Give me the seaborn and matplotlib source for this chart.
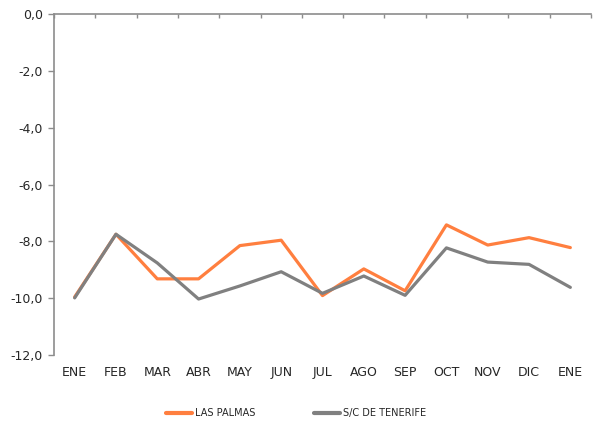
import numpy as np
import pandas as pd
import seaborn as sns
import matplotlib.pyplot as plt
from matplotlib.ticker import FuncFormatter, FixedLocator

# datos
meses = ['ENE', 'FEB', 'MAR', 'ABR', 'MAY', 'JUN', 'JUL',
         'AGO', 'SEP', 'OCT', 'NOV', 'DIC', 'ENE']
las_palmas = [-9.96, -7.75, -9.32, -9.32, -8.15, -7.96, -9.91,
              -8.97, -9.74, -7.42, -8.13, -7.87, -8.22]
tenerife = [-9.99, -7.75, -8.76, -10.03, -9.57, -9.07, -9.83,
            -9.22, -9.90, -8.23, -8.73, -8.81, -9.62]
series = ['LAS PALMAS', 'S/C DE TENERIFE']
colores = ['#FF7F3F', '#808080']

df = pd.DataFrame({
    'idx': list(range(len(meses))) * 2,
    'valor': las_palmas + tenerife,
    'serie': [series[0]] * len(meses) + [series[1]] * len(meses),
})

sns.set_style('white')
plt.rcParams['font.family'] = ['DejaVu Sans']

fig = plt.figure(figsize=(5.96, 4.25), dpi=100)
ax = fig.add_axes([0.0906, 0.1647, 0.901, 0.8023])

sns.lineplot(data=df, x='idx', y='valor', hue='serie', palette=colores,
             linewidth=2.3, ax=ax, legend=False, sort=False)

ax.set_xlim(-0.5, len(meses) - 0.5)
ax.set_ylim(-12, 0)
ax.set_yticks(np.arange(-12, 0.1, 2))
ax.yaxis.set_major_formatter(FuncFormatter(lambda v, p: f'{v:.1f}'.replace('.', ',')))
ax.set_xticks(range(len(meses)))
ax.set_xticklabels(meses)
ax.xaxis.set_minor_locator(FixedLocator(np.arange(-0.5, len(meses), 1)))
ax.set_xlabel('')
ax.set_ylabel('')

gris = '#8c8c8c'
for lado in ['right', 'bottom']:
    ax.spines[lado].set_visible(False)
for lado in ['left', 'top']:
    ax.spines[lado].set_color(gris)
    ax.spines[lado].set_linewidth(1.2)

ax.tick_params(axis='y', which='major', left=True, length=4, color=gris,
               width=1, labelsize=9, pad=4)
ax.tick_params(axis='x', which='major', bottom=False, top=False, length=0,
               labelsize=9, pad=8)
ax.tick_params(axis='x', which='minor', bottom=False, top=True, direction='in',
               length=3, color=gris, width=1)

handles = [plt.Line2D([], [], color=c, linewidth=3) for c in colores]
fig.legend(handles, series, loc='center', bbox_to_anchor=(0.497, 0.028), ncol=2,
           frameon=False, fontsize=7, handlelength=2.7, handletextpad=0.3,
           columnspacing=6.0)

plt.savefig('out.png', dpi=100)
